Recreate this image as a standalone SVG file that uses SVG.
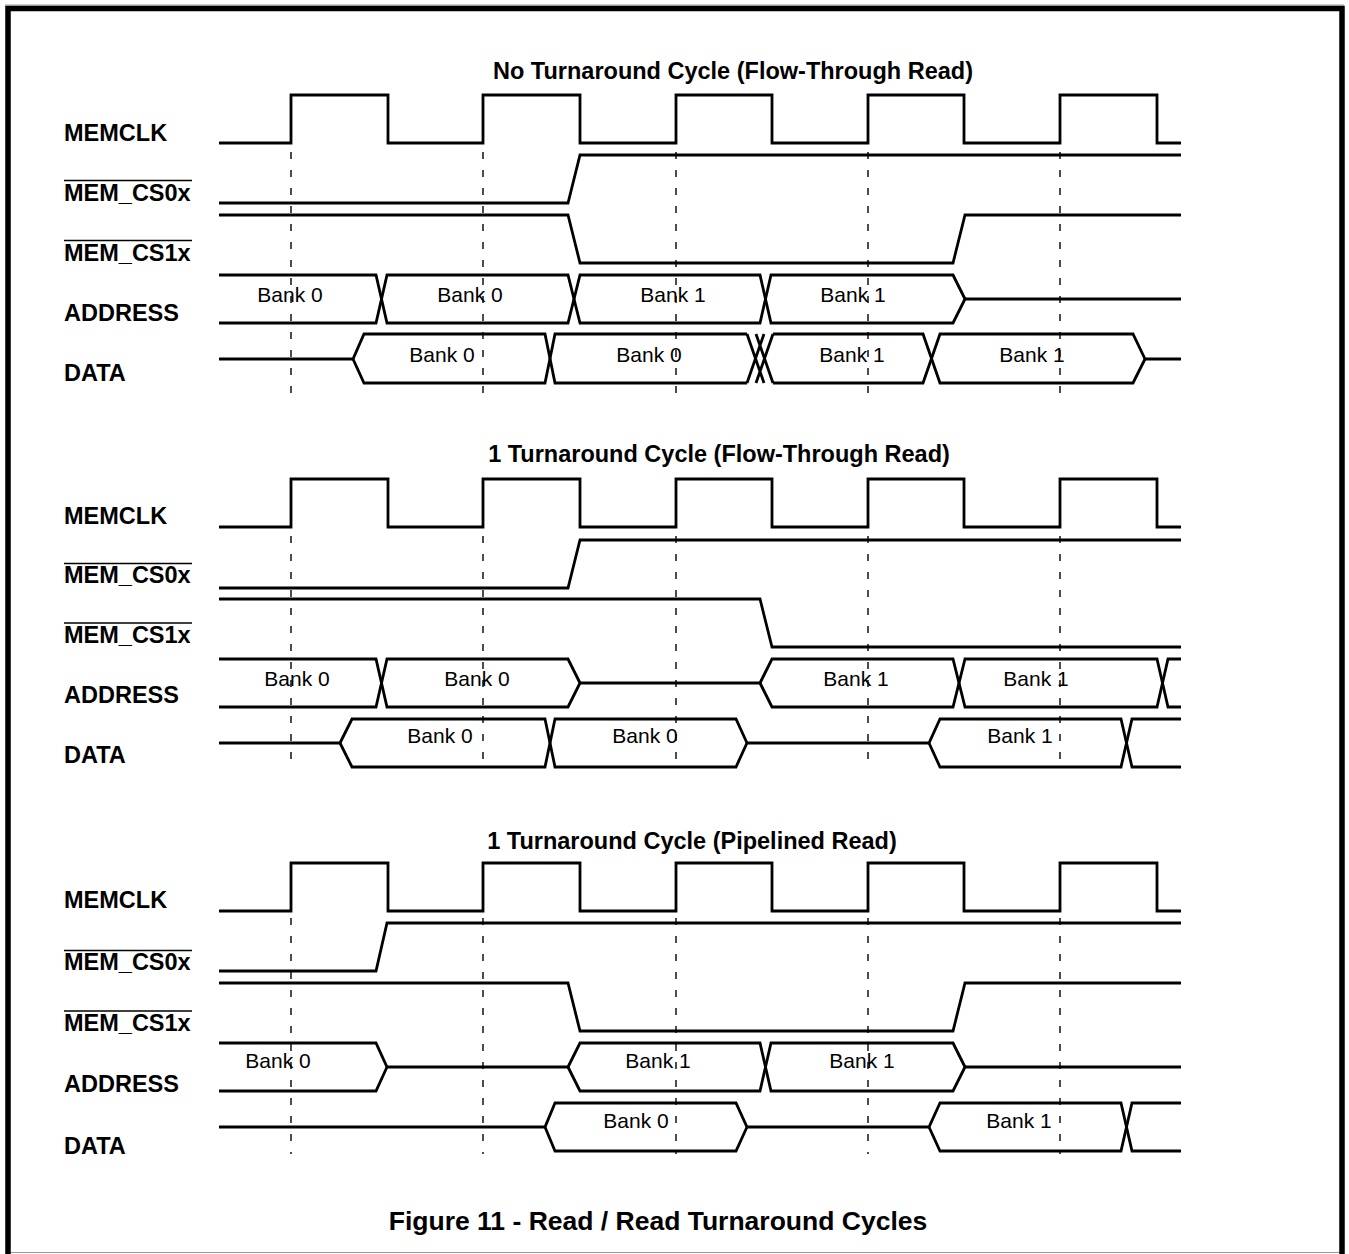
<svg xmlns="http://www.w3.org/2000/svg" width="1349" height="1254" viewBox="0 0 1349 1254">
<style>
.sig{fill:none;stroke:#000;stroke-width:2.8;stroke-linejoin:miter;stroke-miterlimit:10}
.dash{fill:none;stroke:#000;stroke-width:1.4;stroke-dasharray:7 11}
.ov{stroke:#000;stroke-width:1.6}
.lbl{font-family:"Liberation Sans",Arial,sans-serif;font-weight:bold;font-size:23.5px;fill:#000}
.ttl{font-family:"Liberation Sans",Arial,sans-serif;font-weight:bold;font-size:23.5px;fill:#000;text-anchor:middle}
.cap{font-family:"Liberation Sans",Arial,sans-serif;font-weight:bold;font-size:26.5px;fill:#000;text-anchor:middle}
.bk{font-family:"Liberation Sans",Arial,sans-serif;font-size:21px;fill:#000;text-anchor:middle}
</style>
<rect width="1349" height="1254" fill="#fff"/>
<g id="frame">
<line x1="5" y1="5" x2="1344" y2="5" stroke="#999" stroke-width="1"/>
<line x1="5" y1="1252.5" x2="1344" y2="1252.5" stroke="#999" stroke-width="1.2"/>
<path d="M8 1254 V8.5 H1342 V1254" fill="none" stroke="#000" stroke-width="5.5"/>
</g>

<!-- Section 1 -->
<g id="s1">
<text class="ttl" x="733" y="79">No Turnaround Cycle (Flow-Through Read)</text>
<g id="s1-labels">
<text class="lbl" x="64" y="141">MEMCLK</text>
<text class="lbl" x="64" y="201">MEM_CS0x</text>
<line class="ov" x1="64" y1="180.5" x2="192" y2="180.5"/>
<text class="lbl" x="64" y="261">MEM_CS1x</text>
<line class="ov" x1="64" y1="240.5" x2="192" y2="240.5"/>
<text class="lbl" x="64" y="321">ADDRESS</text>
<text class="lbl" x="64" y="381">DATA</text>
</g>
<g id="s1-dash">
<path class="dash" d="M291 152 V398 M483 152 V398 M676 152 V398 M868 152 V398 M1060 152 V398"/>
</g>
<g id="s1-waves">
<path class="sig" d="M219 143 H291 V95 H388 V143 H483 V95 H580 V143 H676 V95 H772 V143 H868 V95 H964 V143 H1060 V95 H1157 V143 H1181"/>
<path class="sig" d="M219 203 H568 L580 155 H1181"/>
<path class="sig" d="M219 215 H568 L580 263 H953 L965 215 H1181"/>
<path class="sig" d="M219 275 H376 L387 323 H568 L580 275 H760 L771 323 H953 L965 299 H1181"/>
<path class="sig" d="M219 323 H376 L387 275 H568 L580 323 H760 L771 275 H953 L965 299"/>
<path class="sig" d="M219 359 H353 L364 334 H545 L555 383 H747"/>
<path class="sig" d="M353 359 L364 383 H545 L555 334 H747"/>
<path class="sig" d="M747 334 L764 383 M747 383 L764 334 M756 334 L773 383 M756 383 L773 334"/>
<path class="sig" d="M773 334 H923 L940 383 H1133 L1145 359 H1181"/>
<path class="sig" d="M773 383 H923 L940 334 H1133 L1145 359"/>
</g>
<g id="s1-bus-labels">
<text class="bk" x="290" y="302">Bank 0</text>
<text class="bk" x="470" y="302">Bank 0</text>
<text class="bk" x="673" y="302">Bank 1</text>
<text class="bk" x="853" y="302">Bank 1</text>
<text class="bk" x="442" y="362">Bank 0</text>
<text class="bk" x="649" y="362">Bank 0</text>
<text class="bk" x="852" y="362">Bank 1</text>
<text class="bk" x="1032" y="362">Bank 1</text>
</g>
</g>

<!-- Section 2 -->
<g id="s2">
<text class="ttl" x="719" y="462">1 Turnaround Cycle (Flow-Through Read)</text>
<g id="s2-labels">
<text class="lbl" x="64" y="524">MEMCLK</text>
<text class="lbl" x="64" y="583">MEM_CS0x</text>
<line class="ov" x1="64" y1="563.5" x2="192" y2="563.5"/>
<text class="lbl" x="64" y="643">MEM_CS1x</text>
<line class="ov" x1="64" y1="623" x2="192" y2="623"/>
<text class="lbl" x="64" y="703">ADDRESS</text>
<text class="lbl" x="64" y="763">DATA</text>
</g>
<g id="s2-dash">
<path class="dash" d="M291 536 V769 M483 536 V769 M676 536 V769 M868 536 V769 M1060 536 V769"/>
</g>
<g id="s2-waves">
<path class="sig" d="M219 527 H291 V479 H388 V527 H483 V479 H580 V527 H676 V479 H772 V527 H868 V479 H964 V527 H1060 V479 H1157 V527 H1181"/>
<path class="sig" d="M219 588 H568 L580 540 H1181"/>
<path class="sig" d="M219 599 H760 L772 647 H1181"/>
<path class="sig" d="M219 659 H376 L387 707 H568 L580 683 H760 L772 659 H953 L965 707 H1157 L1168 659 H1181"/>
<path class="sig" d="M219 707 H376 L387 659 H568 L580 683 M760 683 L772 707 H953 L965 659 H1157 L1168 707 H1181"/>
<path class="sig" d="M219 743 H340 L352 719 H545 L555 767 H736 L747 743 H929 L940 719 H1121 L1132 767 H1181"/>
<path class="sig" d="M340 743 L352 767 H545 L555 719 H736 L747 743 M929 743 L940 767 H1121 L1132 719 H1181"/>
</g>
<g id="s2-bus-labels">
<text class="bk" x="297" y="686">Bank 0</text>
<text class="bk" x="477" y="686">Bank 0</text>
<text class="bk" x="856" y="686">Bank 1</text>
<text class="bk" x="1036" y="686">Bank 1</text>
<text class="bk" x="440" y="743">Bank 0</text>
<text class="bk" x="645" y="743">Bank 0</text>
<text class="bk" x="1020" y="743">Bank 1</text>
</g>
</g>

<!-- Section 3 -->
<g id="s3">
<text class="ttl" x="692" y="849">1 Turnaround Cycle (Pipelined Read)</text>
<g id="s3-labels">
<text class="lbl" x="64" y="908">MEMCLK</text>
<text class="lbl" x="64" y="970">MEM_CS0x</text>
<line class="ov" x1="64" y1="950.5" x2="192" y2="950.5"/>
<text class="lbl" x="64" y="1031">MEM_CS1x</text>
<line class="ov" x1="64" y1="1011" x2="192" y2="1011"/>
<text class="lbl" x="64" y="1092">ADDRESS</text>
<text class="lbl" x="64" y="1154">DATA</text>
</g>
<g id="s3-dash">
<path class="dash" d="M291 918 V1154 M483 918 V1154 M676 918 V1154 M868 918 V1154 M1060 918 V1154"/>
</g>
<g id="s3-waves">
<path class="sig" d="M219 911 H291 V863 H388 V911 H483 V863 H580 V911 H676 V863 H772 V911 H868 V863 H964 V911 H1060 V863 H1157 V911 H1181"/>
<path class="sig" d="M219 971 H376 L387 923 H1181"/>
<path class="sig" d="M219 983 H568 L580 1031 H953 L965 983 H1181"/>
<path class="sig" d="M219 1043 H376 L387 1067 H568 L580 1043 H760 L771 1091 H953 L965 1067 H1181"/>
<path class="sig" d="M219 1091 H376 L387 1067 M568 1067 L580 1091 H760 L771 1043 H953 L965 1067"/>
<path class="sig" d="M219 1127 H545 L555 1103 H736 L747 1127 H929 L940 1103 H1121 L1132 1151 H1181"/>
<path class="sig" d="M545 1127 L555 1151 H736 L747 1127 M929 1127 L940 1151 H1121 L1132 1103 H1181"/>
</g>
<g id="s3-bus-labels">
<text class="bk" x="278" y="1068">Bank 0</text>
<text class="bk" x="658" y="1068">Bank 1</text>
<text class="bk" x="862" y="1068">Bank 1</text>
<text class="bk" x="636" y="1128">Bank 0</text>
<text class="bk" x="1019" y="1128">Bank 1</text>
</g>
</g>

<text class="cap" x="658" y="1230">Figure 11 - Read / Read Turnaround Cycles</text>
</svg>
